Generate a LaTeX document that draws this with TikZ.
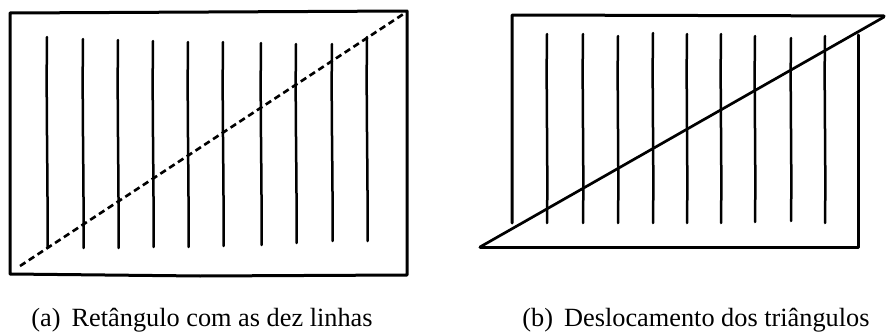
\documentclass[tikz,border=0pt]{standalone}
\usepackage{fontspec}
\setmainfont{Liberation Serif}
\tikzset{
  frame/.style={line width=3pt, line join=round, line cap=round},
  stroke/.style={line width=2.5pt, line cap=round},
  cutline/.style={line width=2.6pt, dash pattern=on 6.5pt off 4pt},
  solidcut/.style={line width=2.7pt, line cap=round},
  captext/.style={font=\fontsize{26.3}{30}\selectfont, inner sep=0pt, anchor=base}
}
\begin{document}
\begin{tikzpicture}[x=1pt,y=-1pt]
\useasboundingbox (0,0) rectangle (887,332);
% ---- panel (a)
\draw[frame] (10,13) -- (407,11) -- (407,275) -- (200,276) -- (10,274) -- cycle;
\foreach \x/\t/\b in {47/37/248, 83/39/248, 118/40/248, 153/41/247, 188/42/247, 223/42/246, 261/43/245, 296/44/243, 332/44/241, 367/37/241}{
  \draw[stroke] (\x,\t) .. controls (\x-1,\t+70) and (\x+1,\b-70) .. (\x+0.5,\b);
}
\coordinate (a1) at (20,266);
\coordinate (a2) at (405,13);
\draw[cutline] (a1) -- (a2);
% ---- panel (b)
\coordinate (b1) at (480,247);
\coordinate (b2) at (884,17);
\draw[frame] (512,223) -- (512,15) -- (884,16);
\draw[frame] (858,35) -- (858,247) -- (480,247);
\foreach \x/\t/\b in {547/34/223, 583/34/223, 618/36/223, 653/33/223, 687/34/223, 721/34/223, 755/36/222, 791/38/221, 825/36/223}{
  \draw[stroke] (\x,\t) .. controls (\x-1,\t+60) and (\x+1,\b-60) .. (\x,\b);
}
\draw[solidcut] (b1) -- (b2);
% ---- captions
\node[captext] (capa) at (202,326) {(a)\hspace{0.42em}Retângulo com as dez linhas};
\node[captext] (capb) at (696,326) {(b)\hspace{0.42em}Deslocamento dos triângulos};
\end{tikzpicture}
\end{document}
